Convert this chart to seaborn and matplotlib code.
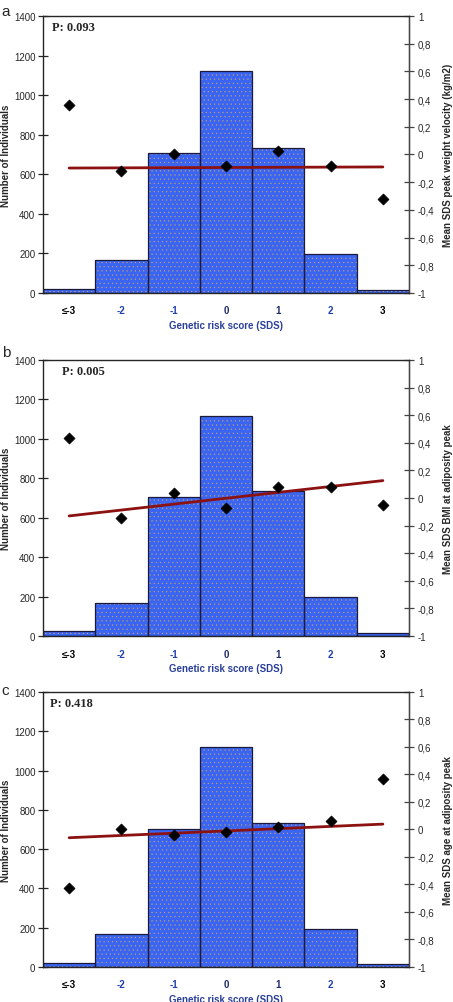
"""Genetic risk score histograms with mean SDS overlay (three panels)."""

import numpy as np
import matplotlib
matplotlib.use("Agg")
import matplotlib.pyplot as plt
from matplotlib.ticker import FuncFormatter, FixedLocator
import seaborn as sns

# --- data ---
categories = ["≤-3", "-2", "-1", "0", "1", "2", "3"]
counts_a = [22, 168, 705, 1120, 733, 195, 15]
counts_b = [25, 168, 705, 1118, 737, 198, 15]
counts_c = [22, 168, 705, 1118, 732, 195, 15]

mean_a = [0.356, -0.117, 0.0, -0.081, 0.023, -0.086, -0.32]
mean_b = [0.437, -0.145, 0.034, -0.07, 0.082, 0.077, -0.051]
mean_c = [-0.429, 0.001, -0.043, -0.019, 0.019, 0.06, 0.364]

trend_a = [-0.098, -0.090]
trend_b = [-0.13, 0.126]
trend_c = [-0.06, 0.039]

p_values = ["P: 0.093", "P: 0.005", "P: 0.418"]
panel_letters = ["a", "b", "c"]
right_labels = ["Mean SDS peak weight velocity (kg/m2)",
                "Mean SDS BMI at adiposity peak",
                "Mean SDS age at adiposity peak"]

sns.set_style("white")
plt.rcParams["font.family"] = ["Liberation Sans", "DejaVu Sans"]
plt.rcParams["axes.unicode_minus"] = False
plt.rcParams["hatch.linewidth"] = 0.3

BAR_BLUE = "#3a64f2"
DOT_ORANGE = "#c9a466"
TREND_RED = "#8c1212"
LABEL_BLUE = "#2a3f9a"
tick_colors = ["black", "#2040b0", "#2040b0", "#1e2a66", "#1e2a66", "#2040b0", "black"]

fig = plt.figure(figsize=(4.53, 10.03), dpi=100)

# axes rectangles [left, bottom, width, height] in figure fractions
rects = [[0.0949, 0.7069, 0.8080, 0.2762],
         [0.0949, 0.3649, 0.8080, 0.2752],
         [0.0949, 0.0349, 0.8080, 0.2742]]
p_x = [0.025, 0.052, 0.02]
letter_y = [0.995, 0.655, 0.318]

panels = [(counts_a, mean_a, trend_a),
          (counts_b, mean_b, trend_b),
          (counts_c, mean_c, trend_c)]

pos = np.arange(len(categories))
comma_fmt = FuncFormatter(lambda v, _: f"{v:g}".replace(".", ","))

for i, (counts, means, trend) in enumerate(panels):
    ax = fig.add_axes(rects[i])

    # filled bars with a fine dotted pattern
    sns.barplot(x=pos, y=counts, ax=ax, width=1.0, color=BAR_BLUE,
                saturation=1, native_scale=True, edgecolor=DOT_ORANGE,
                linewidth=0, hatch="....")
    # dark outline on top
    sns.barplot(x=pos, y=counts, ax=ax, width=1.0, fill=False,
                native_scale=True, edgecolor="#1a1a3a", linewidth=0.9)

    ax.set_xlim(-0.5, len(categories) - 0.5)
    ax.set_ylim(0, 1400)
    ax.set_yticks(range(0, 1401, 200))
    ax.set_xticks(pos)
    ax.set_xticklabels(categories, fontsize=7, fontweight="bold")
    for lab, col in zip(ax.get_xticklabels(), tick_colors):
        lab.set_color(col)
    ax.xaxis.set_minor_locator(FixedLocator(np.arange(-0.5, len(categories), 1.0)))
    ax.tick_params(axis="x", which="major", length=0, pad=9)
    ax.tick_params(axis="x", which="minor", direction="inout", length=7,
                   width=0.9, color="black")
    ax.tick_params(axis="y", direction="inout", length=7, width=0.9,
                   labelsize=7, pad=2, left=True)
    for side in ["left", "bottom", "top", "right"]:
        ax.spines[side].set_color("black")
        ax.spines[side].set_linewidth(0.9)

    ax.set_ylabel("Number of Individuals", fontsize=7, fontweight="bold")
    ax.yaxis.set_label_coords(-0.088, 0.5)
    ax.set_xlabel("Genetic risk score (SDS)", fontsize=7, fontweight="bold",
                  color=LABEL_BLUE, labelpad=3)

    ax.text(p_x[i], 0.96, p_values[i], transform=ax.transAxes,
            family=["Liberation Serif", "DejaVu Serif"], fontsize=9,
            fontweight="bold", va="center", ha="left")

    # secondary axis: mean SDS per category and trend line
    ax2 = ax.twinx()
    sns.lineplot(x=[pos[0], pos[-1]], y=trend, ax=ax2, color=TREND_RED,
                 linewidth=2.0, zorder=3)
    sns.scatterplot(x=pos, y=means, ax=ax2, marker="D", s=32, color="black",
                    edgecolor="black", zorder=4)
    ax2.set_xlim(-0.5, len(categories) - 0.5)
    ax2.set_ylim(-1, 1)
    ax2.set_yticks(np.linspace(-1, 1, 11))
    ax2.yaxis.set_major_formatter(comma_fmt)
    ax2.tick_params(axis="y", direction="inout", length=7, width=0.9,
                    labelsize=7, pad=3, right=True, color="#444444")
    ax2.spines["right"].set_color("#444444")
    ax2.spines["right"].set_linewidth(0.9)
    ax2.set_ylabel(right_labels[i], fontsize=7, fontweight="bold",
                   rotation=90)
    ax2.yaxis.set_label_coords(1.092, 0.5)

    fig.text(0.004, letter_y[i], panel_letters[i], fontsize=11,
             va="top", ha="left")

fig.savefig("out.png", dpi=100)
plt.close(fig)
